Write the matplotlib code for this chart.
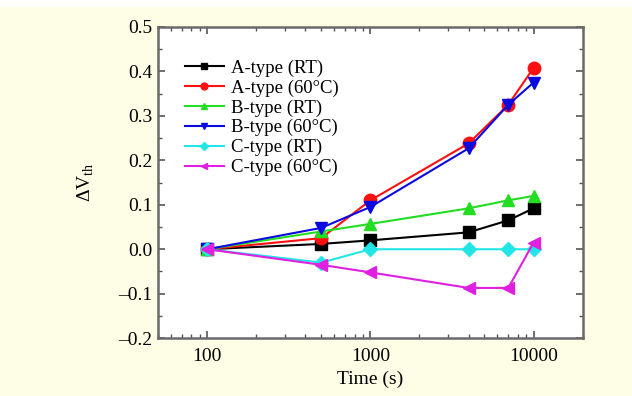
import numpy as np
import matplotlib
matplotlib.use('Agg')
import matplotlib.pyplot as plt
from matplotlib.ticker import MultipleLocator, LogLocator, NullFormatter

plt.rcParams['font.family'] = ['Liberation Serif', 'DejaVu Serif']
plt.rcParams['mathtext.fontset'] = 'custom'
plt.rcParams['mathtext.rm'] = 'Liberation Serif'
plt.rcParams['font.size'] = 14

# time points (s)
times = [100, 500, 1000, 4000, 7000, 10000]

# threshold voltage shift
a_rt = [0.0, 0.012, 0.020, 0.038, 0.065, 0.092]
a_60 = [0.0, 0.025, 0.110, 0.238, 0.325, 0.408]
b_rt = [0.0, 0.040, 0.057, 0.092, 0.110, 0.120]
b_60 = [0.0, 0.048, 0.095, 0.227, 0.325, 0.375]
c_rt = [0.0, -0.030, 0.0, 0.0, 0.0, 0.0]
c_60 = [0.0, -0.035, -0.052, -0.087, -0.087, 0.015]

labels = ['A-type (RT)', 'A-type (60°C)', 'B-type (RT)',
          'B-type (60°C)', 'C-type (RT)', 'C-type (60°C)']

bg = '#fefde6'
fig = plt.figure(figsize=(6.32, 3.96), dpi=100, facecolor=bg)
# thin white strip along the top
fig.patches.append(plt.Rectangle((0, 0.983), 1, 0.017, transform=fig.transFigure,
                                 facecolor='white', edgecolor='none', zorder=0))
ax = fig.add_axes([0.25, 0.146, 0.672, 0.786])

series = [a_rt, a_60, b_rt, b_60, c_rt, c_60]
colors = ['black', '#ff1010', '#22dd22', '#0a0ae0', '#22e5e5', '#e020e0']
markers = ['s', 'o', '^', 'v', 'D', '<']
sizes = [8, 9, 9, 9, 7, 9]

for y, c, m, s, lab in zip(series, colors, markers, sizes, labels):
    ax.plot(times, y, color=c, marker=m, markersize=s, lw=1.5, label=lab)

ax.set_xscale('log')
ax.set_xlim(50, 20000)
ax.set_ylim(-0.2, 0.5)
ax.set_xticks([100, 1000, 10000])
ax.set_xticklabels(['100', '1000', '10000'])
ax.xaxis.set_minor_locator(LogLocator(base=10, subs=np.arange(2, 10)))
ax.xaxis.set_minor_formatter(NullFormatter())
ax.yaxis.set_major_locator(MultipleLocator(0.1))
ax.yaxis.set_minor_locator(MultipleLocator(0.05))
ax.set_yticklabels([('%.1f' % v).replace('-', '\u2013') for v in ax.get_yticks()])

ax.tick_params(which='both', direction='in', top=True, right=True, color='#555555')
ax.tick_params(which='major', length=5, width=1.2)
ax.tick_params(which='minor', length=3, width=1.0)
ax.tick_params(axis='x', pad=7)
ax.tick_params(axis='y', pad=4)
for sp in ax.spines.values():
    sp.set_color('#6a6a6a')
    sp.set_linewidth(1.8)

ax.set_xlabel('Time (s)', labelpad=4)
ax.set_ylabel(r'$\Delta$V$_{\rm th}$', labelpad=16)

ax.legend(loc='upper left', bbox_to_anchor=(0.045, 0.92), frameon=False,
          markerscale=0.55, handlelength=2.1, handletextpad=0.35,
          labelspacing=0.14, fontsize=13.5, borderaxespad=0)

plt.savefig('out.png', dpi=100, facecolor=bg)
